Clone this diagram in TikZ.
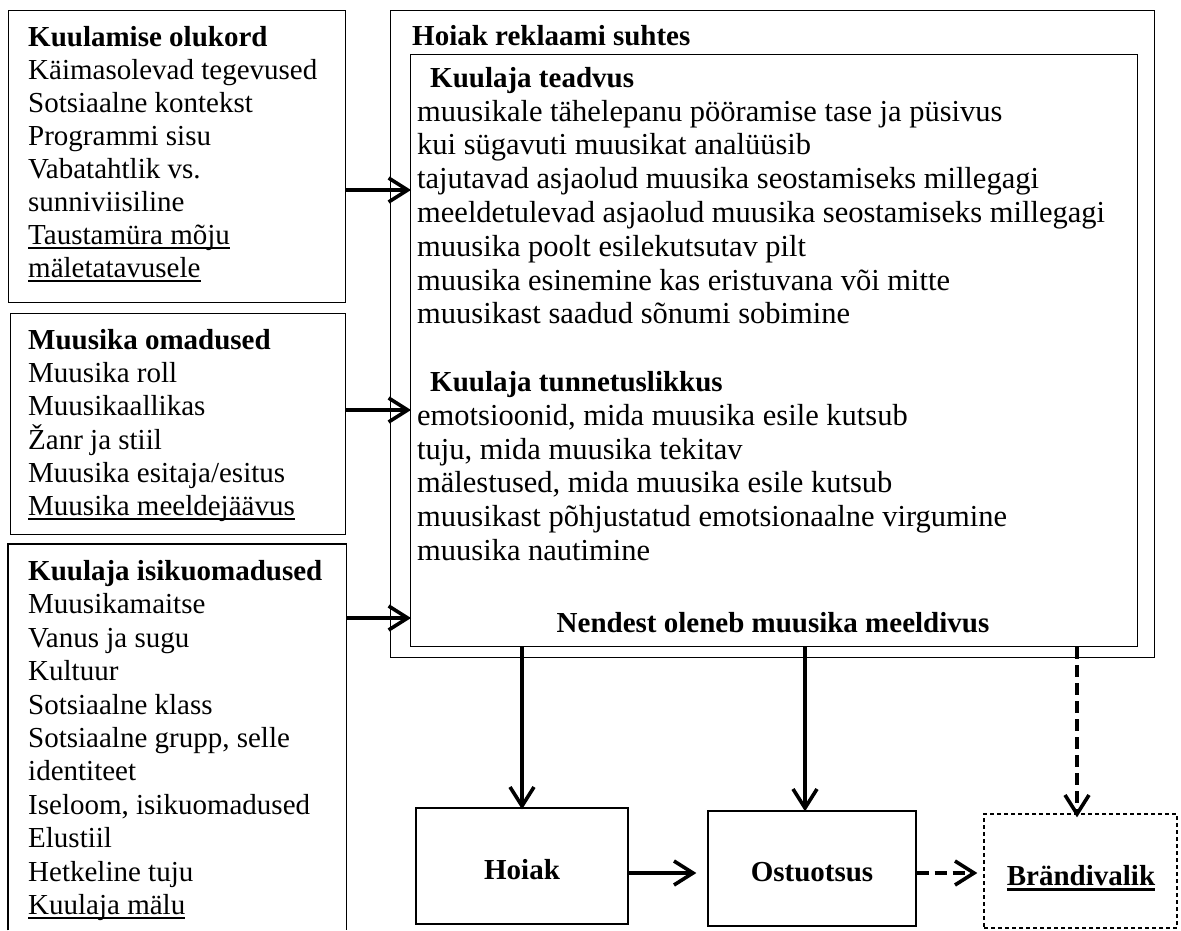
\documentclass[tikz,border=0pt]{standalone}
\usepackage{fontspec}
\setmainfont{Liberation Serif}
\usetikzlibrary{arrows.meta}

% underlines at a fixed distance below the baseline
\newsavebox\ulbox
\newcommand\ulthin[1]{\sbox\ulbox{#1}\smash{\rlap{\rule[-4.5pt]{\wd\ulbox}{1.5pt}}}\usebox\ulbox}
\newcommand\ulthick[1]{\sbox\ulbox{#1}\smash{\rlap{\rule[-6pt]{\wd\ulbox}{2.8pt}}}\usebox\ulbox}

\begin{document}
\begin{tikzpicture}[x=1pt,y=-1pt,
  frame/.style={draw, line width=1.3pt, inner sep=0pt, anchor=north west},
  txt/.style={anchor=base west, inner sep=0pt, font=\fontsize{29}{33}\selectfont},
  itxt/.style={anchor=base west, inner sep=0pt, font=\fontsize{30.5}{34}\selectfont},
  hd/.style={txt, font=\fontsize{29}{33}\selectfont\bfseries},
  result/.style={draw, line width=1.3pt, inner sep=0pt},
  rlabel/.style={anchor=base, inner sep=0pt, font=\fontsize{29}{33}\selectfont\bfseries},
  arr/.style={line width=4pt, -{Straight Barb[length=19pt, width=24pt, line width=3.6pt]}},
  darr/.style={arr, dash pattern=on 12pt off 6pt},
]
\useasboundingbox (0,0) rectangle (1181,930);

% ---- left column: factors ----
\node[frame, minimum width=337pt, minimum height=292pt] (b1) at (8,10) {};
\node[frame, minimum width=335pt, minimum height=221pt] (b2) at (10,313) {};
\node[anchor=north west, inner sep=0pt, minimum width=338pt, minimum height=386pt] (b3) at (8,544) {};
\draw[line width=1.3pt] (b3.south west) -- (b3.north west) -- (b3.north east) -- (b3.south east);

\node[hd]  (b1h) at (28,46)  {Kuulamise olukord};
\node[txt] (b1a) at (28,79)  {Käimasolevad tegevused};
\node[txt] (b1b) at (28,112) {Sotsiaalne kontekst};
\node[txt] (b1c) at (28,145) {Programmi sisu};
\node[txt] (b1d) at (28,178) {Vabatahtlik vs.};
\node[txt] (b1e) at (28,211) {sunniviisiline};
\node[txt] (b1f) at (28,244) {\ulthin{Taustamüra mõju}};
\node[txt] (b1g) at (28,277) {\ulthin{mäletatavusele}};

\node[hd]  (b2h) at (28,349) {Muusika omadused};
\node[txt] (b2a) at (28,382) {Muusika roll};
\node[txt] (b2b) at (28,415) {Muusikaallikas};
\node[txt] (b2c) at (28,449) {Žanr ja stiil};
\node[txt] (b2d) at (28,482) {Muusika esitaja/esitus};
\node[txt] (b2e) at (28,515) {\ulthin{Muusika meeldejäävus}};

\node[hd]  (b3h) at (28,580) {Kuulaja isikuomadused};
\node[txt] (b3a) at (28,613) {Muusikamaitse};
\node[txt] (b3b) at (28,647) {Vanus ja sugu};
\node[txt] (b3c) at (28,680) {Kultuur};
\node[txt] (b3d) at (28,714) {Sotsiaalne klass};
\node[txt] (b3e) at (28,747) {Sotsiaalne grupp, selle};
\node[txt] (b3f) at (28,780) {identiteet};
\node[txt] (b3g) at (28,814) {Iseloom, isikuomadused};
\node[txt] (b3i) at (28,847) {Elustiil};
\node[txt] (b3j) at (28,881) {Hetkeline tuju};
\node[txt] (b3k) at (28,914) {\ulthin{Kuulaja mälu}};

% ---- attitude towards the advertisement ----
\node[frame, minimum width=764pt, minimum height=647pt] (outer) at (390,10) {};
\node[frame, minimum width=727pt, minimum height=592pt] (inner) at (410,54) {};
\node[hd] (outh) at (412,45) {Hoiak reklaami suhtes};

\node[hd]   (ta) at (430,87)    {Kuulaja teadvus};
\node[itxt] (t1) at (417,121)   {muusikale tähelepanu pööramise tase ja püsivus};
\node[itxt] (t2) at (417,154.8) {kui sügavuti muusikat analüüsib};
\node[itxt] (t3) at (417,188.6) {tajutavad asjaolud muusika seostamiseks millegagi};
\node[itxt] (t4) at (417,222.4) {meeldetulevad asjaolud muusika seostamiseks millegagi};
\node[itxt] (t5) at (417,256.2) {muusika poolt esilekutsutav pilt};
\node[itxt] (t6) at (417,290)   {muusika esinemine kas eristuvana või mitte};
\node[itxt] (t7) at (417,323.8) {muusikast saadud sõnumi sobimine};

\node[hd]   (tb) at (430,391.4) {Kuulaja tunnetuslikkus};
\node[itxt] (u1) at (417,425.2) {emotsioonid, mida muusika esile kutsub};
\node[itxt] (u2) at (417,459)   {tuju, mida muusika tekitav};
\node[itxt] (u3) at (417,492.8) {mälestused, mida muusika esile kutsub};
\node[itxt] (u4) at (417,526.6) {muusikast põhjustatud emotsionaalne virgumine};
\node[itxt] (u5) at (417,560.4) {muusika nautimine};

\node[hd, anchor=base] (nend) at (773,632) {Nendest oleneb muusika meeldivus};

% ---- outcomes ----
\node[result, minimum width=212pt, minimum height=116pt] (hoiak) at (522,866) {};
\node[result, minimum width=208pt, minimum height=115pt] (ostu) at (812,868.5) {};
\node[result, dash pattern=on 4pt off 3pt, minimum width=193pt, minimum height=114pt] (brand) at (1080.5,871) {};
\node[rlabel] (hoiakl) at (522,879)  {Hoiak};
\node[rlabel] (ostul)  at (812,881)  {Ostuotsus};
\node[rlabel] (brandl) at (1081,885) {\ulthick{Brändivalik}};

% ---- connectors ----
\coordinate (ya) at (0,190);
\coordinate (yb) at (0,410);
\coordinate (yc) at (0,618);
\coordinate (xa) at (522,0);
\coordinate (xb) at (805,0);
\coordinate (xc) at (1077,0);
\coordinate (yr) at (0,873);

\draw[arr] (b1.east |- ya) -- ([xshift=1pt]inner.west |- ya);
\draw[arr] (b2.east |- yb) -- ([xshift=1pt]inner.west |- yb);
\draw[arr] (b3.east |- yc) -- ([xshift=1pt]inner.west |- yc);

\draw[arr]  (inner.south -| xa) -- ([yshift=-2pt]hoiak.north -| xa);
\draw[arr]  (inner.south -| xb) -- ([yshift=-1pt]ostu.north -| xb);
\draw[darr] (inner.south -| xc) -- ([yshift=-4pt]brand.north -| xc);

\draw[arr, shorten >=11pt] (hoiak.east |- yr) -- (ostu.west |- yr);
\draw[darr, shorten >=6pt] (ostu.east |- yr) -- (brand.west |- yr);
\end{tikzpicture}
\end{document}
